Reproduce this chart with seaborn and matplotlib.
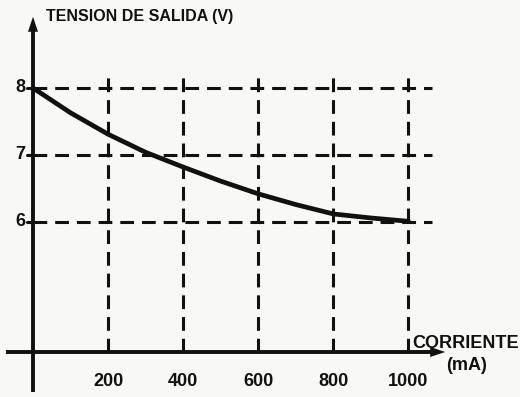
import matplotlib
matplotlib.use("Agg")
import matplotlib.pyplot as plt
import seaborn as sns
import pandas as pd

sns.set_theme(style="white")
plt.rcParams['font.family'] = ['Liberation Sans', 'DejaVu Sans']

# Data
current_ma = [0, 100, 200, 300, 400, 500, 600, 700, 800, 900, 1000]
voltage_v = [8.0, 7.63, 7.31, 7.04, 6.82, 6.61, 6.42, 6.26, 6.12, 6.06, 6.01]
x_ticks = [200, 400, 600, 800, 1000]
y_ticks = [6, 7, 8]
y_title = "TENSION DE SALIDA (V)"
x_title_1 = "CORRIENTE"
x_title_2 = "(mA)"

df = pd.DataFrame({"corriente": current_ma, "tension": voltage_v})

W, H = 520, 397
fig = plt.figure(figsize=(W / 100, H / 100), dpi=100)
bg = "#f8f8f6"
fig.patch.set_facecolor(bg)
ax = fig.add_axes([0, 0, 1, 1])
ax.set_facecolor(bg)

# pixel -> data mapping
x0_px, px_per_ma = 33.0, 75.1 / 200.0
y8_px, px_per_v = 88.0, 67.0
def xd(px):
    return (px - x0_px) / px_per_ma
def yd(py):
    return 8 - (py - y8_px) / px_per_v

ax.set_xlim(xd(0), xd(W))
ax.set_ylim(yd(H), yd(0))
for s in ax.spines.values():
    s.set_visible(False)
ax.set_xticks([])
ax.set_yticks([])

ink = "#111111"
y_axis = yd(352)
dash = (0, (4.5, 2.6))

# dashed grid
for yv in y_ticks:
    ax.plot([0, xd(432)], [yv, yv], color=ink, lw=2.2, linestyle=dash, zorder=2)
for xv in x_ticks:
    ax.plot([xv, xv], [y_axis, yd(72)], color=ink, lw=2.2, linestyle=dash, zorder=2)

# axes with arrows
ax.plot([0, 0], [yd(392), yd(28)], color=ink, lw=2.8, zorder=3, solid_capstyle='butt')
ax.annotate("", xy=(0, yd(14)), xytext=(0, yd(30)),
            arrowprops=dict(arrowstyle="-|>,head_length=0.9,head_width=0.3", color=ink, lw=0),
            zorder=3)
ax.plot([xd(6), xd(432)], [y_axis, y_axis], color=ink, lw=2.8, zorder=3, solid_capstyle='butt')
ax.annotate("", xy=(xd(448), y_axis), xytext=(xd(430), y_axis),
            arrowprops=dict(arrowstyle="-|>,head_length=0.9,head_width=0.3", color=ink, lw=0),
            zorder=3)

# small ticks on y axis
for yv in y_ticks:
    ax.plot([xd(27), 0], [yv, yv], color=ink, lw=2.2, zorder=3)

# curve
sns.lineplot(data=df, x="corriente", y="tension", ax=ax, color=ink, lw=3.4, zorder=4)
ax.set_xlabel("")
ax.set_ylabel("")

fs = 13
for yv in y_ticks:
    ax.text(xd(25), yv, str(yv), ha="right", va="center", fontsize=fs, fontweight="bold", color=ink)
for xv in x_ticks:
    ax.text(xv, yd(381), str(xv), ha="center", va="center", fontsize=fs, fontweight="bold", color=ink)

ax.text(xd(46), yd(16), y_title, ha="left", va="center", fontsize=11.5, fontweight="bold", color=ink)
ax.text(xd(412), yd(343), x_title_1, ha="left", va="center", fontsize=13, fontweight="bold", color=ink)
ax.text(xd(446), yd(366), x_title_2, ha="left", va="center", fontsize=13, fontweight="bold", color=ink)

fig.savefig("out.png", dpi=100, facecolor=bg)
